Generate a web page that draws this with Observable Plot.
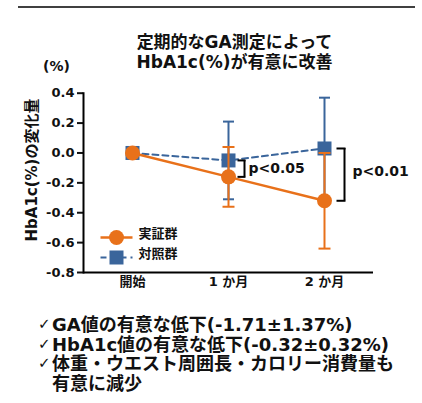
<!DOCTYPE html>
<html><head><meta charset="utf-8">
<script src="https://cdn.jsdelivr.net/npm/d3@7"></script>
<script src="https://cdn.jsdelivr.net/npm/@observablehq/plot@0.6"></script>
<style>
html,body{margin:0;padding:0;background:#fff;}
#wrap{position:relative;width:422px;height:403px;overflow:hidden;font-family:"DejaVu Sans","Noto Sans CJK JP",sans-serif;font-weight:bold;color:#111;}
#rule{position:absolute;left:18px;top:6px;width:397px;height:2px;background:#404040;}
#title{position:absolute;left:47px;width:375px;top:33px;text-align:center;font-size:17px;line-height:19.5px;}
#unit{position:absolute;left:43px;top:58px;font-size:14px;}
#ylab{position:absolute;left:30px;top:170px;font-size:15px;white-space:nowrap;transform:translate(-50%,-50%) rotate(-90deg);}
#chart{position:absolute;left:0;top:75px;}
#bullets{position:absolute;left:38px;top:315px;font-size:18px;line-height:19.5px;}
.b{display:flex;}
.ck{width:14px;font-weight:normal;font-size:15px;}
</style></head>
<body><div id="wrap"><div id="rule"></div><div id="title"></div><div id="unit"></div><div id="chart"></div><div id="ylab"></div><div id="bullets"></div></div>
<script>
const titleLines = ["定期的なGA測定によって", "HbA1c(%)が有意に改善"];
const unitLabel = "(%)";
const yLabel = "HbA1c(%)の変化量";
const categories = ["開始", "1 か月", "2 か月"];
const seriesNames = ["実証群", "対照群"];
const trialMean = [0, -0.16, -0.32];
const trialSD = [0, 0.20, 0.32];
const controlMean = [0, -0.05, 0.03];
const controlSD = [0, 0.26, 0.34];
const yTicks = [0.4, 0.2, 0, -0.2, -0.4, -0.6, -0.8];
const pLabels = ["p<0.05", "p<0.01"];
const pCategories = ["1 か月", "2 か月"];
const bullets = [["GA値の有意な低下(-1.71±1.37%)"], ["HbA1c値の有意な低下(-0.32±0.32%)"], ["体重・ウエスト周囲長・カロリー消費量も", "有意に減少"]];

const ORANGE = "#E8711A", BLUE = "#3A659B";

document.getElementById("title").innerHTML = titleLines.join("<br>");
document.getElementById("unit").textContent = unitLabel;
document.getElementById("ylab").textContent = yLabel;
document.getElementById("bullets").innerHTML = bullets.map(l => `<div class="b"><span class="ck">✓</span><span>${l.join("<br>")}</span></div>`).join("");

const trial = categories.map((c, i) => ({cat: c, mean: trialMean[i], sd: trialSD[i]}));
const control = categories.map((c, i) => ({cat: c, mean: controlMean[i], sd: controlSD[i]}));
const ann = pCategories.map((c, k) => {
  const i = categories.indexOf(c);
  return {cat: c, y1: trialMean[i], y2: controlMean[i], label: pLabels[k]};
});
const hline = {draw(ctx, size) { const r = Math.sqrt(size / Math.PI); ctx.moveTo(-r, 0); ctx.lineTo(r, 0); }};

function errMarks(rows, color, half) {
  const r = rows.filter(d => d.sd > 0);
  return [
    Plot.ruleX(r, {x: "cat", y1: d => d.mean - d.sd, y2: d => d.mean + d.sd, stroke: color, strokeWidth: 2}),
    Plot.dot(r, {x: "cat", y: d => d.mean + d.sd, symbol: hline, r: half, stroke: color, strokeWidth: 2, fill: "none"}),
    Plot.dot(r, {x: "cat", y: d => d.mean - d.sd, symbol: hline, r: half, stroke: color, strokeWidth: 2, fill: "none"})
  ];
}
function bracket(a, dx, arm) {
  return [
    Plot.ruleX([a], {x: "cat", y1: "y1", y2: "y2", dx: dx, stroke: "#000", strokeWidth: 2}),
    Plot.dot([a], {x: "cat", y: "y1", dx: dx - arm / 2, symbol: hline, r: arm / 2 + 1, stroke: "#000", strokeWidth: 2, fill: "none"}),
    Plot.dot([a], {x: "cat", y: "y2", dx: dx - arm / 2, symbol: hline, r: arm / 2 + 1, stroke: "#000", strokeWidth: 2, fill: "none"})
  ];
}

const plot = Plot.plot({
  width: 422, height: 220,
  marginLeft: 83, marginRight: 49, marginTop: 17.7, marginBottom: 23,
  style: {fontFamily: '"DejaVu Sans","Noto Sans CJK JP",sans-serif', fontWeight: "bold", color: "#111", background: "transparent"},
  x: {type: "point", domain: categories, padding: 0.5},
  y: {domain: [-0.8, 0.4]},
  marks: [
    Plot.axisY({ticks: yTicks, tickSize: 6, tickPadding: 3, tickFormat: d => d.toFixed(1), fontSize: 13, strokeWidth: 2, label: null}),
    Plot.axisX({tickSize: 0, tickPadding: 4, fontSize: 13, label: null}),
    Plot.frame({anchor: "left", stroke: "#000", strokeWidth: 2}),
    Plot.ruleY([-0.8], {stroke: "#000", strokeWidth: 2}),
    ...errMarks(control, BLUE, 5.5),
    Plot.line(control, {x: "cat", y: "mean", stroke: BLUE, strokeWidth: 2, strokeDasharray: "6,4"}),
    Plot.dot(control, {x: "cat", y: "mean", symbol: "square", r: 7.9, fill: BLUE}),
    ...errMarks(trial, ORANGE, 6),
    Plot.line(trial, {x: "cat", y: "mean", stroke: ORANGE, strokeWidth: 2.5}),
    Plot.dot(trial, {x: "cat", y: "mean", r: 7.5, fill: ORANGE}),
    // significance brackets
    ...bracket(ann[0], 16, 6),
    Plot.text([ann[0]], {x: "cat", y: d => (d.y1 + d.y2) / 2, text: "label", dx: 20, textAnchor: "start", fontSize: 14}),
    ...bracket(ann[1], 20, 7),
    Plot.text([ann[1]], {x: "cat", y: d => (d.y1 + d.y2) / 2, text: "label", dx: 28, dy: -3, textAnchor: "start", fontSize: 14}),
    // legend
    Plot.dot([seriesNames[0]], {frameAnchor: "bottom-left", dx: 33, dy: -35, symbol: hline, r: 16, stroke: ORANGE, strokeWidth: 2.5, fill: "none"}),
    Plot.dot([seriesNames[0]], {frameAnchor: "bottom-left", dx: 33, dy: -35, r: 7.5, fill: ORANGE}),
    Plot.text([seriesNames[0]], {frameAnchor: "bottom-left", dx: 55, dy: -35, textAnchor: "start", fontSize: 13}),
    Plot.dot([seriesNames[1]], {frameAnchor: "bottom-left", dx: 33, dy: -15, symbol: hline, r: 16, stroke: BLUE, strokeWidth: 2, strokeDasharray: "6,4", fill: "none"}),
    Plot.dot([seriesNames[1]], {frameAnchor: "bottom-left", dx: 33, dy: -15, symbol: "square", r: 7.9, fill: BLUE}),
    Plot.text([seriesNames[1]], {frameAnchor: "bottom-left", dx: 55, dy: -15, textAnchor: "start", fontSize: 13})
  ]
});
document.getElementById("chart").appendChild(plot);
</script></body></html>
